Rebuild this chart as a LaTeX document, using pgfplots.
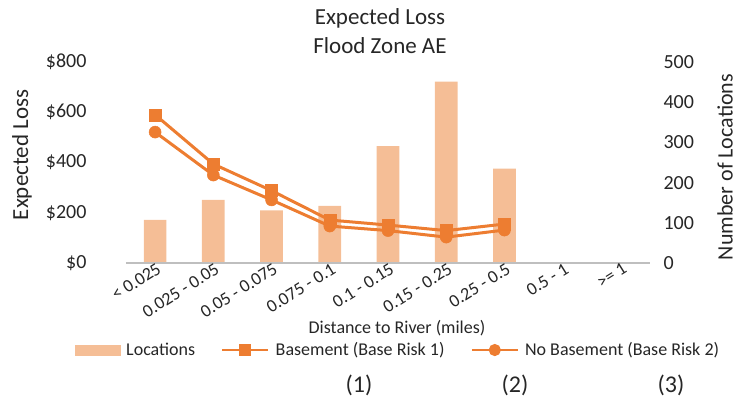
\documentclass[border=0pt]{standalone}
\usepackage{fontspec}
\setmainfont{Carlito}
\usepackage{pgfplots}
\pgfplotsset{compat=1.18}
\definecolor{barorange}{HTML}{F5BE96}
\definecolor{lineorange}{HTML}{ED7D31}
\definecolor{axgray}{HTML}{BFBFBF}
\definecolor{txt}{HTML}{262626}
\newcommand{\fs}[1]{\fontsize{#1}{#1}\selectfont}

\begin{document}
\begin{tikzpicture}[x=1pt,y=1pt]
\useasboundingbox (-126,-139) rectangle (612,263);

% counts on the right axis
\begin{axis}[
  at={(0,0)}, anchor=south west,
  scale only axis, width=524pt, height=201pt,
  xmin=-0.5, xmax=8.5, ymin=0, ymax=500,
  axis x line=none, axis y line*=right,
  y axis line style={draw=none},
  ytick={0,100,...,500}, major tick length=0pt,
  /pgf/number format/assume math mode=true,
  yticklabel style={font=\fs{20}, text=txt, anchor=west, xshift=10pt},
]
\addplot[ybar, bar width=0.39, fill=barorange, draw=none] coordinates {
  (0,107) (1,157) (2,131) (3,142) (4,291) (5,451) (6,235) (7,0) (8,0)
};
\end{axis}

% expected loss on the left axis
\begin{axis}[
  at={(0,0)}, anchor=south west,
  scale only axis, width=524pt, height=201pt,
  xmin=-0.5, xmax=8.5, ymin=0, ymax=800,
  axis x line*=bottom, axis y line*=left,
  x axis line style={draw=axgray, line width=1.5pt, -},
  y axis line style={draw=none},
  major tick length=0pt,
  xtick={0,...,8},
  xticklabels={{< 0.025},{0.025 - 0.05},{0.05 - 0.075},{0.075 - 0.1},{0.1 - 0.15},{0.15 - 0.25},{0.25 - 0.5},{0.5 - 1},{>= 1}},
  xticklabel style={font=\fs{18}, text=txt, inner sep=0pt, xshift=1pt, yshift=1pt, rotate=32, anchor=north east},
  ytick={0,200,...,800},
  yticklabels={\$0,\$200,\$400,\$600,\$800},
  yticklabel style={font=\fs{20}, text=txt, anchor=east, xshift=-36pt},
  legend columns=3,
  legend style={draw=none, fill=none, at={(0.519,-0.433)}, anchor=center,
    font=\fs{18}, text=txt, inner sep=0pt,
    /tikz/every odd column/.append style={column sep=4pt},
    /tikz/every even column/.append style={column sep=24pt}},
  legend cell align=left,
]
\addlegendimage{legend image code/.code={\fill[barorange] (0pt,-5pt) rectangle (45pt,5pt);}}
\addlegendentry{Locations}
\addplot[lineorange, line width=3pt, mark=square*, mark size=6pt,
  mark options={solid, line width=0.5pt},
  legend image code/.code={\draw[lineorange, line width=2.5pt] (0pt,0pt) -- (46pt,0pt);
    \fill[lineorange] (18.5pt,-4.5pt) rectangle (27.5pt,4.5pt);}]
  coordinates {(0,590) (1,394) (2,288) (3,171) (4,151) (5,129) (6,155)};
\addlegendentry{Basement (Base Risk 1)}
\addplot[lineorange, line width=3pt, mark=*, mark size=6pt,
  mark options={solid, line width=0.5pt},
  legend image code/.code={\draw[lineorange, line width=2.5pt] (0pt,0pt) -- (46pt,0pt);
    \fill[lineorange] (23pt,0pt) circle (4.5pt);}]
  coordinates {(0,521) (1,350) (2,251) (3,147) (4,129) (5,103) (6,131)};
\addlegendentry{No Basement (Base Risk 2)}
\end{axis}

% titles and labels, placed in picture pixels
\node[font=\fs{23}, text=txt] at (380-126, 263-18) {Expected Loss};
\node[font=\fs{23}, text=txt] at (380-126, 263-46) {Flood Zone AE};
\node[font=\fs{23}, text=txt, rotate=90] at (22-126, 263-155) {Expected Loss};
\node[font=\fs{22}, text=txt, rotate=90] at (725-126, 263-167) {Number of Locations};
\node[font=\fs{18}, text=txt] at (397-126, 263-328) {Distance to River (miles)};
\node[font=\fs{24}, text=txt] at (359-126, 263-385) {(1)};
\node[font=\fs{24}, text=txt] at (515-126, 263-385) {(2)};
\node[font=\fs{24}, text=txt] at (671-126, 263-385) {(3)};
\end{tikzpicture}
\end{document}
